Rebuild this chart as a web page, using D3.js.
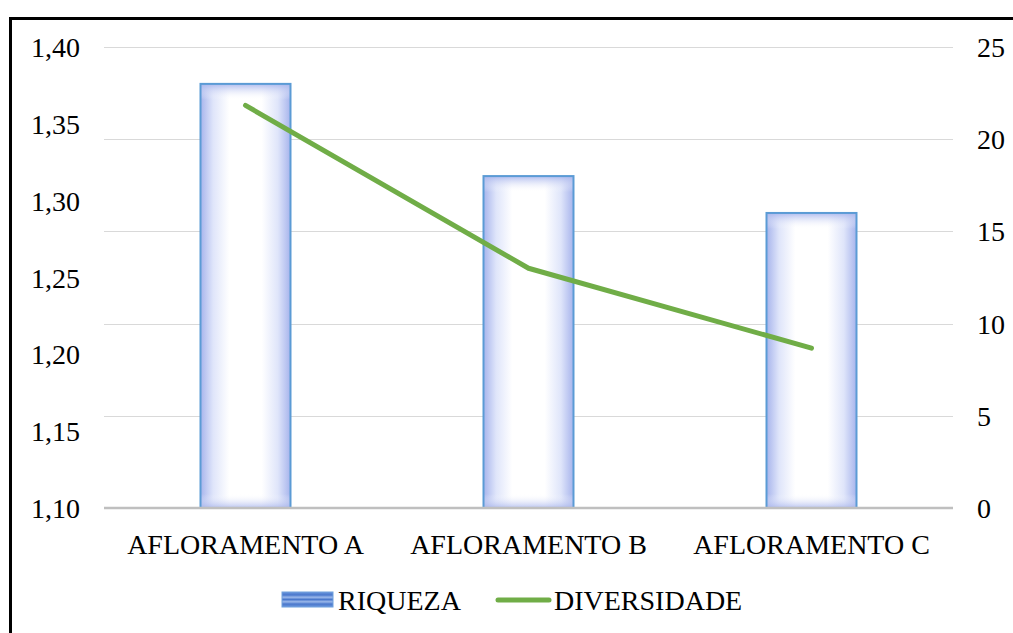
<!DOCTYPE html>
<meta charset="utf-8">
<style>
body { margin: 0; background: #fff; }
svg text { font-family: "Liberation Serif", "DejaVu Serif", serif; fill: #000; }
</style>
<svg width="1013" height="633"></svg>
<script src="https://cdn.jsdelivr.net/npm/d3@7"></script>
<script>

// data
var categories = ["AFLORAMENTO A", "AFLORAMENTO B", "AFLORAMENTO C"];
var riqueza = [23, 18, 16];              // bars, right axis
var diversidade = [1.362, 1.256, 1.204]; // line, left axis
var leftTicks = [1.10, 1.15, 1.20, 1.25, 1.30, 1.35, 1.40];
var rightTicks = [0, 5, 10, 15, 20, 25];

var svg = d3.select("svg");
var plotL = 104, plotR = 953, plotT = 47, plotB = 508;

var x = d3.scaleBand().domain(categories).range([plotL, plotR])
    .paddingInner(0.682).paddingOuter(0.341);
var yL = d3.scaleLinear().domain([1.10, 1.40]).range([plotB, plotT]);
var yR = d3.scaleLinear().domain([0, 25]).range([plotB, plotT]);

var comma = function(v) { return d3.format(".2f")(v).replace(".", ","); };

// gradients for the bar glow
var defs = svg.append("defs");
var gh = defs.append("linearGradient").attr("id", "gh");
[[0, "#a7b4ec"], [0.14, "#dfe5fa"], [0.32, "#ffffff"], [0.68, "#ffffff"], [0.86, "#dfe5fa"], [1, "#a7b4ec"]]
  .forEach(function(s) { gh.append("stop").attr("offset", s[0]).attr("stop-color", s[1]); });
var gt = defs.append("linearGradient").attr("id", "gt").attr("x1", 0).attr("x2", 0).attr("y1", 0).attr("y2", 1);
gt.append("stop").attr("offset", 0).attr("stop-color", "#a7b4ec").attr("stop-opacity", 0.9);
gt.append("stop").attr("offset", 1).attr("stop-color", "#ffffff").attr("stop-opacity", 0);
var gb = defs.append("linearGradient").attr("id", "gb").attr("x1", 0).attr("x2", 0).attr("y1", 1).attr("y2", 0);
gb.append("stop").attr("offset", 0).attr("stop-color", "#a7b4ec").attr("stop-opacity", 0.8);
gb.append("stop").attr("offset", 1).attr("stop-color", "#ffffff").attr("stop-opacity", 0);
var gs = defs.append("linearGradient").attr("id", "gs").attr("x1", 0).attr("x2", 0).attr("y1", 0).attr("y2", 1);
[[0, "#6b95dc"], [0.2, "#4a78cc"], [0.35, "#9bb8ea"], [0.5, "#4a78cc"], [0.65, "#9bb8ea"], [0.8, "#4a78cc"], [1, "#6b95dc"]]
  .forEach(function(s) { gs.append("stop").attr("offset", s[0]).attr("stop-color", s[1]); });

// frame
svg.append("rect").attr("x", 10.5).attr("y", 18.5).attr("width", 1100).attr("height", 700)
  .attr("fill", "none").attr("stroke", "#000").attr("stroke-width", 3);

// gridlines follow the right axis
svg.append("g").selectAll("line").data(rightTicks.slice(1)).enter().append("line")
  .attr("x1", plotL).attr("x2", plotR)
  .attr("y1", function(d) { return Math.round(yR(d)) + 0.5; })
  .attr("y2", function(d) { return Math.round(yR(d)) + 0.5; })
  .attr("stroke", "#d9d9d9").attr("stroke-width", 1);

// bars
var bars = svg.append("g").selectAll("g").data(riqueza).enter().append("g");
bars.append("rect")
  .attr("x", function(d, i) { return x(categories[i]); })
  .attr("y", function(d) { return yR(d); })
  .attr("width", x.bandwidth())
  .attr("height", function(d) { return plotB - yR(d); })
  .attr("fill", "url(#gh)");
bars.append("rect")
  .attr("x", function(d, i) { return x(categories[i]); })
  .attr("y", function(d) { return yR(d); })
  .attr("width", x.bandwidth()).attr("height", 16)
  .attr("fill", "url(#gt)");
bars.append("rect")
  .attr("x", function(d, i) { return x(categories[i]); })
  .attr("y", plotB - 14)
  .attr("width", x.bandwidth()).attr("height", 14)
  .attr("fill", "url(#gb)");
bars.append("rect")
  .attr("x", function(d, i) { return x(categories[i]); })
  .attr("y", function(d) { return yR(d); })
  .attr("width", x.bandwidth())
  .attr("height", function(d) { return plotB - yR(d); })
  .attr("fill", "none").attr("stroke", "#5b9bd5").attr("stroke-width", 2);

// baseline
svg.append("line").attr("x1", plotL).attr("x2", plotR).attr("y1", plotB).attr("y2", plotB)
  .attr("stroke", "#bfbfbf").attr("stroke-width", 2.5);

// diversity line
var line = d3.line()
  .x(function(d, i) { return x(categories[i]) + x.bandwidth() / 2; })
  .y(function(d) { return yL(d); });
svg.append("path").datum(diversidade).attr("d", line)
  .attr("fill", "none").attr("stroke", "#70ad47").attr("stroke-width", 5)
  .attr("stroke-linecap", "round").attr("stroke-linejoin", "round");

// left axis labels
svg.append("g").selectAll("text").data(leftTicks).enter().append("text")
  .attr("x", 80).attr("y", function(d) { return yL(d) + 10; })
  .attr("text-anchor", "end").attr("font-size", "28px")
  .text(comma);

// right axis labels
svg.append("g").selectAll("text").data(rightTicks).enter().append("text")
  .attr("x", 977).attr("y", function(d) { return yR(d) + 10; })
  .attr("font-size", "28px")
  .text(function(d) { return d; });

// category labels
svg.append("g").selectAll("text").data(categories).enter().append("text")
  .attr("x", function(d) { return x(d) + x.bandwidth() / 2; })
  .attr("y", 554)
  .attr("text-anchor", "middle").attr("font-size", "28px")
  .text(function(d) { return d; });

// legend
var lg = svg.append("g");
lg.append("rect").attr("x", 282).attr("y", 592).attr("width", 51).attr("height", 15)
  .attr("fill", "url(#gs)").attr("stroke", "#6fa0dc").attr("stroke-width", 1);
lg.append("text").attr("x", 338).attr("y", 610).attr("font-size", "28px").text("RIQUEZA");
lg.append("line").attr("x1", 498).attr("x2", 549).attr("y1", 600).attr("y2", 600)
  .attr("stroke", "#70ad47").attr("stroke-width", 5).attr("stroke-linecap", "round");
lg.append("text").attr("x", 554).attr("y", 610).attr("font-size", "28px").text("DIVERSIDADE");

</script>
